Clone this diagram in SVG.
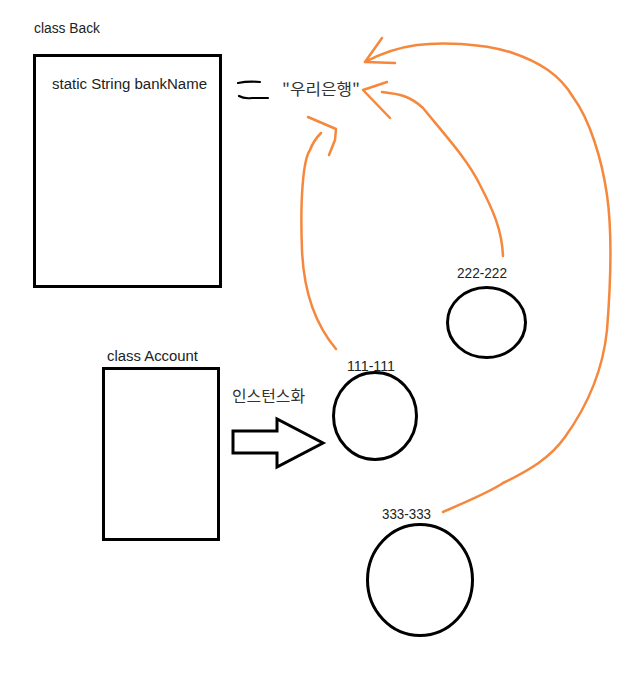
<svg xmlns="http://www.w3.org/2000/svg" width="641" height="675" viewBox="0 0 641 675">
<style>
.t{font-family:"Liberation Sans","Noto Sans CJK KR",sans-serif;font-size:14px;fill:#222}
.k{font-family:"Noto Sans CJK KR","Liberation Sans",sans-serif;font-size:16px;fill:#333}
.box{fill:none;stroke:#000;stroke-width:3}
.o{fill:none;stroke:#f5883c;stroke-width:2.5;stroke-linecap:round;stroke-linejoin:round}
.eq{fill:none;stroke:#000;stroke-width:2.2;stroke-linecap:round}
</style>
<rect width="641" height="675" fill="#fff"/>
<g id="classBack">
<text class="t" x="34" y="33" textLength="66" lengthAdjust="spacingAndGlyphs">class Back</text>
<rect class="box" x="34.5" y="55.5" width="186" height="231"/>
<text class="t" x="52" y="89" textLength="155" lengthAdjust="spacingAndGlyphs">static String bankName</text>
</g>
<g id="equals">
<path class="eq" d="M238,83 Q248,81 260,82"/>
<path class="eq" d="M239,96 Q244,99 252,98 L268,98"/>
</g>
<g id="bankValue">
<text class="k" x="282" y="95" textLength="78" lengthAdjust="spacingAndGlyphs">"우리은행"</text>
</g>
<g id="classAccount">
<text class="t" x="107" y="361" textLength="91" lengthAdjust="spacingAndGlyphs">class Account</text>
<rect class="box" x="103.5" y="368.5" width="115" height="171"/>
</g>
<g id="instantiate">
<text class="k" x="232" y="402" textLength="73" lengthAdjust="spacingAndGlyphs">인스턴스화</text>
<polygon class="box" points="233,431 277,431 277,419 323,443 277,467 277,453 233,453"/>
</g>
<g id="obj111">
<text class="t" x="347" y="371" textLength="48" lengthAdjust="spacingAndGlyphs">111-111</text>
<ellipse class="box" cx="375" cy="416" rx="41.5" ry="43.5"/>
</g>
<g id="obj222">
<text class="t" x="457" y="278" textLength="50" lengthAdjust="spacingAndGlyphs">222-222</text>
<ellipse class="box" cx="486.5" cy="322.5" rx="39" ry="35"/>
</g>
<g id="obj333">
<text class="t" x="382" y="519" textLength="49" lengthAdjust="spacingAndGlyphs">333-333</text>
<ellipse class="box" cx="420" cy="580" rx="52.5" ry="55.5"/>
</g>
<g id="connectors">
<path class="o" d="M336,349 C320,330 304,300 302,250 C300,200 303,160 310,150 C313,142 318,136 321,133"/>
<path class="o" d="M308,117 L336,129 L335,140 L329,155"/>
<path class="o" d="M503,256 C502,230 493,210 480,185 C468,160 445,135 423,108 C410,96 400,94 382,92"/>
<path class="o" d="M387,82 L363,90 L390,118"/>
<path class="o" d="M443,512 C470,500 490,492 503,483 C530,470 550,458 565,437 C588,405 603,370 607,330 C611,280 612,230 607,195 C602,160 590,120 573,97 C560,75 540,62 510,52 C480,43 440,42 417,45 C395,48 378,55 365,62"/>
<path class="o" d="M382,38 L365,62 L395,63"/>
</g>
</svg>
